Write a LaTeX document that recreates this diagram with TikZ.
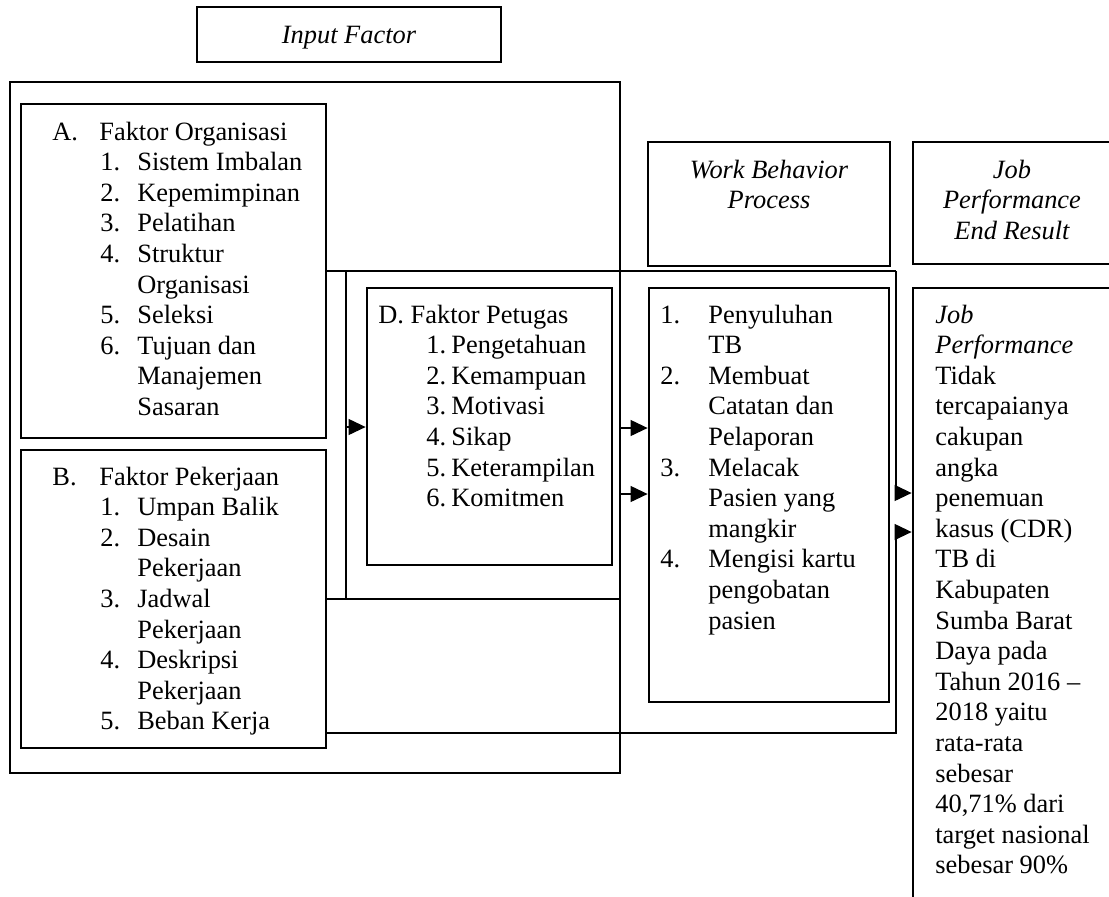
\documentclass[tikz,border=0pt]{standalone}
\usepackage{fontspec}
\setmainfont{Liberation Serif}
\usetikzlibrary{arrows.meta,fit,positioning}
\tikzset{
  box/.style={draw,line width=1.4pt,inner sep=0pt},
  thinline/.style={line width=0.55pt},
  arr/.style={thinline,-{Triangle[length=8.5pt,width=8pt]}},
  txt/.style={inner sep=0pt,anchor=base west,font=\fontsize{13.2}{15.3}\selectfont},
  ttl/.style={inner sep=0pt,anchor=base,font=\fontsize{13.2}{15.3}\selectfont\itshape},
}
% list lines
\newcommand\hd[2]{\makebox[23.5pt][l]{#1}#2}
\newcommand\itm[2]{\hspace*{24pt}\makebox[18.5pt][l]{#1}#2}
\newcommand\cnt[1]{\hspace*{42.5pt}#1}
\newcommand\ditm[2]{\hspace*{24pt}\makebox[12.5pt][l]{#1}#2}

\begin{document}
\begin{tikzpicture}[x=0.5pt,y=-0.5pt]
  \useasboundingbox (0,0) rectangle (1109,896);
  % input side
  \node[box,fit={(197,7) (501,62)}] (boxIn) {};
  \node[ttl] (tIn) at (349,43) {Input Factor};
  \node[box,fit={(10,82) (620,773)}] (inp) {};
  \node[box,fit={(21,104) (326,438)}] (boxA) {};
  \node[txt] (tA) at (52,140) {\begin{tabular}[t]{@{}l@{}}
    \hd{A.}{Faktor Organisasi}\\
    \itm{1.}{Sistem Imbalan}\\
    \itm{2.}{Kepemimpinan}\\
    \itm{3.}{Pelatihan}\\
    \itm{4.}{Struktur}\\
    \cnt{Organisasi}\\
    \itm{5.}{Seleksi}\\
    \itm{6.}{Tujuan dan}\\
    \cnt{Manajemen}\\
    \cnt{Sasaran}
  \end{tabular}};
  \node[box,fit={(21,450) (326,748)}] (boxB) {};
  \node[txt] (tB) at (52,485) {\begin{tabular}[t]{@{}l@{}}
    \hd{B.}{Faktor Pekerjaan}\\
    \itm{1.}{Umpan Balik}\\
    \itm{2.}{Desain}\\
    \cnt{Pekerjaan}\\
    \itm{3.}{Jadwal}\\
    \cnt{Pekerjaan}\\
    \itm{4.}{Deskripsi}\\
    \cnt{Pekerjaan}\\
    \itm{5.}{Beban Kerja}
  \end{tabular}};
  \node[box,fit={(367,288) (612,565)}] (boxD) {};
  \node[txt] (tD) at (378,323) {\begin{tabular}[t]{@{}l@{}}
    D. Faktor Petugas\\
    \ditm{1.}{Pengetahuan}\\
    \ditm{2.}{Kemampuan}\\
    \ditm{3.}{Motivasi}\\
    \ditm{4.}{Sikap}\\
    \ditm{5.}{Keterampilan}\\
    \ditm{6.}{Komitmen}
  \end{tabular}};
  % process side
  \node[box,fit={(648,142) (890,266)}] (boxWB) {};
  \node[ttl] (tWB) at (769,178) {\begin{tabular}[t]{@{}c@{}}Work Behavior\\Process\end{tabular}};
  \node[box,fit={(649,288) (889,702)}] (proc) {};
  \node[txt] (tP) at (660,323) {\begin{tabular}[t]{@{}l@{}}
    \makebox[24pt][l]{1.}Penyuluhan\\
    \hspace*{24pt}TB\\
    \makebox[24pt][l]{2.}Membuat\\
    \hspace*{24pt}Catatan dan\\
    \hspace*{24pt}Pelaporan\\
    \makebox[24pt][l]{3.}Melacak\\
    \hspace*{24pt}Pasien yang\\
    \hspace*{24pt}mangkir\\
    \makebox[24pt][l]{4.}Mengisi kartu\\
    \hspace*{24pt}pengobatan\\
    \hspace*{24pt}pasien
  \end{tabular}};
  % result side
  \node[box,fit={(913,142) (1111,264)}] (boxJP) {};
  \node[ttl] (tJP) at (1012,178) {\begin{tabular}[t]{@{}c@{}}Job\\Performance\\End Result\end{tabular}};
  \node[box,fit={(913,288) (1111,910)}] (job) {};
  \node[txt] (tJ) at (935,323) {\begin{tabular}[t]{@{}l@{}}
    \textit{Job}\\
    \textit{Performance}\\
    Tidak\\
    tercapaianya\\
    cakupan\\
    angka\\
    penemuan\\
    kasus (CDR)\\
    TB di\\
    Kabupaten\\
    Sumba Barat\\
    Daya pada\\
    Tahun 2016 --\\
    2018 yaitu\\
    rata-rata\\
    sebesar\\
    40,71\% dari\\
    target nasional\\
    sebesar 90\%
  \end{tabular}};
  % connectors
  \coordinate (cL) at (346,271);
  \coordinate (cR) at (896,271);
  \coordinate (cLow) at (346,599);
  \coordinate (cBot) at (896,733);
  \coordinate (cB) at (896,532);
  \draw[thinline] (boxA.east |- cL) -- (cR);
  \draw[thinline] (cL) -- (cLow);
  \draw[thinline] (boxB.east |- cLow) -- (inp.east |- cLow);
  \draw[arr] (cL |- 0,427) -- (boxD.west |- 0,427);
  \draw[arr] (inp.east |- 0,428) -- (proc.west |- 0,428);
  \draw[arr] (inp.east |- 0,494) -- (proc.west |- 0,494);
  \draw[arr] (cR) |- (job.west |- 0,493);
  \draw[arr] (boxB.east |- cBot) -- (cBot) -- (cB) -- (job.west |- cB);
\end{tikzpicture}
\end{document}
